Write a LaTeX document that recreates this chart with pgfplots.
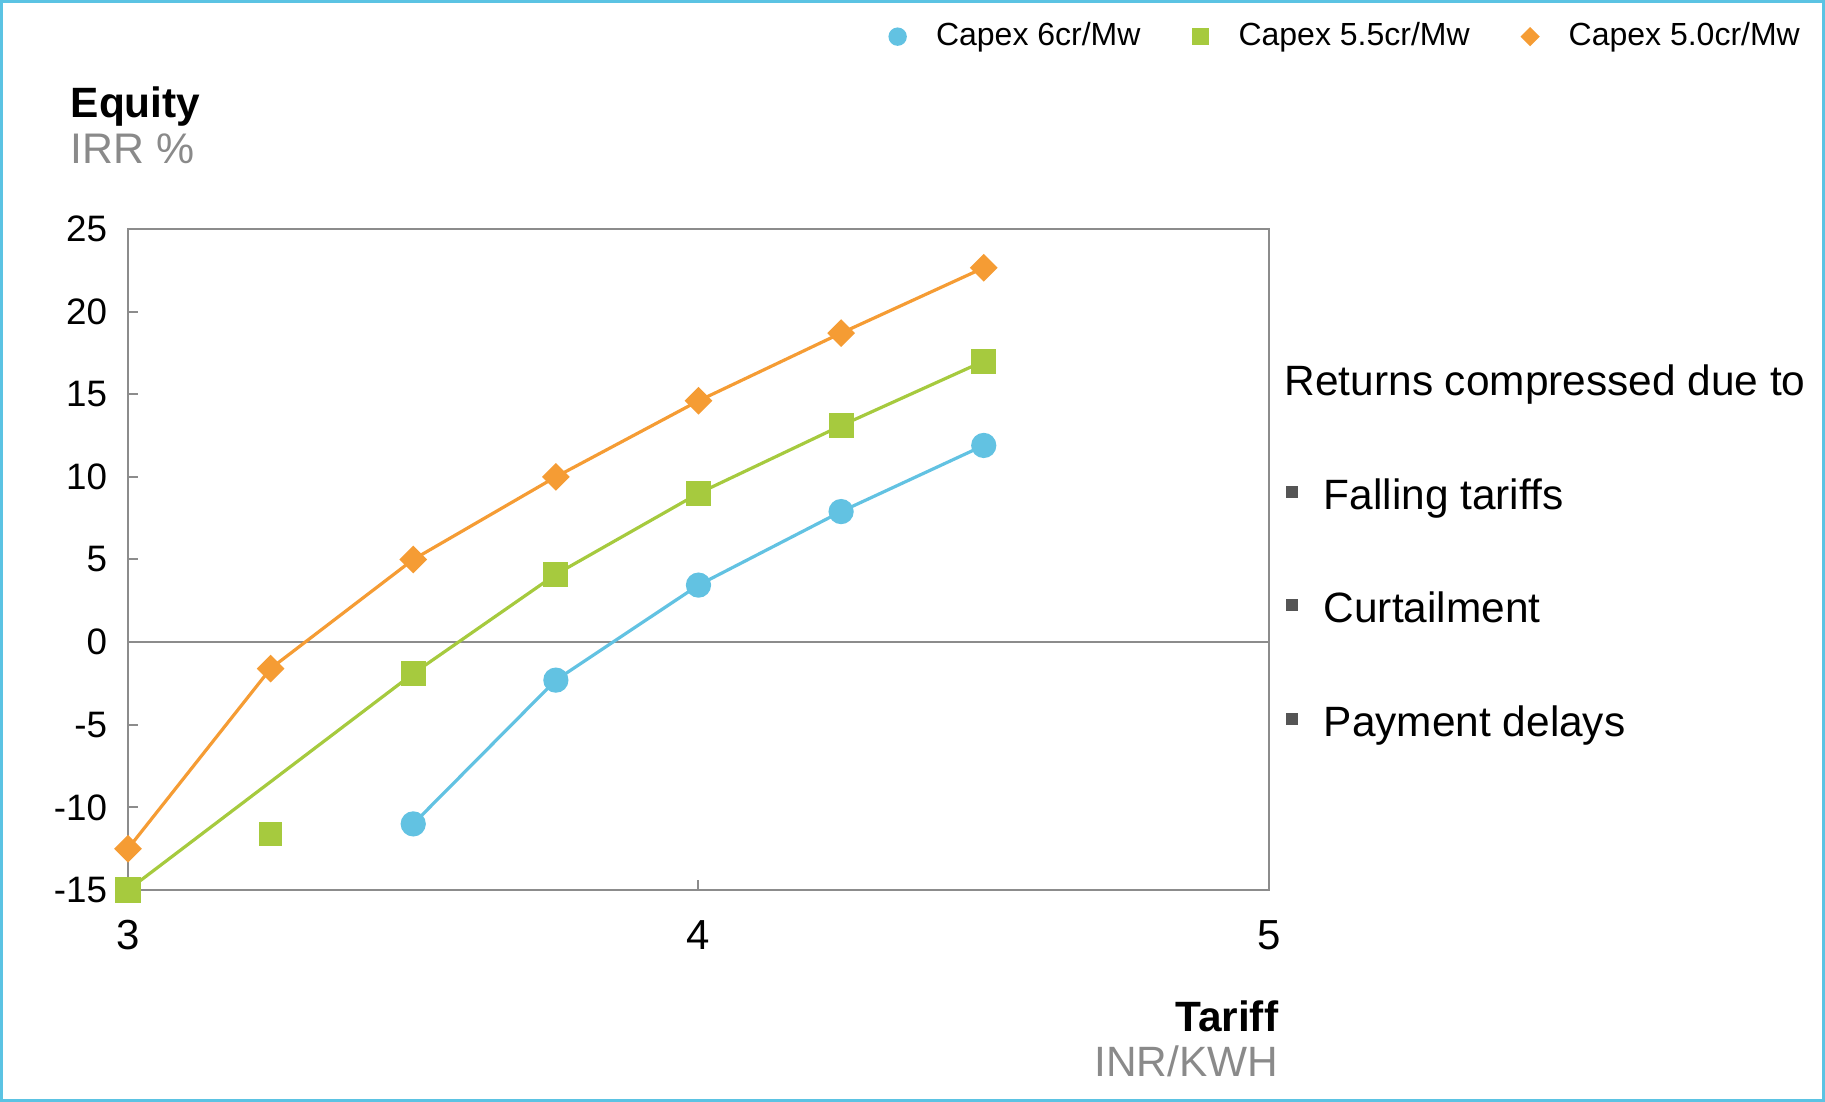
\documentclass[border=0pt]{standalone}
\usepackage{fontspec}
\setmainfont{Liberation Sans}
\usepackage{pgfplots}
\pgfplotsset{compat=1.18}
\definecolor{cblue}{HTML}{62C2E2}
\definecolor{cgreen}{HTML}{A6CA3E}
\definecolor{corange}{HTML}{F59C34}
\definecolor{frameblue}{HTML}{5BC3E3}
\definecolor{axgray}{HTML}{8C8C8C}
\definecolor{labgray}{HTML}{8A8A8A}
\definecolor{bulgray}{HTML}{555555}
\begin{document}
\begin{tikzpicture}
\path[use as bounding box] (0,0) rectangle (456.25pt,275.5pt);
\draw[frameblue, line width=0.8pt] (0.4pt,0.4pt) rectangle (455.85pt,275.1pt);
\begin{axis}[at={(32pt,53pt)}, anchor=south west, scale only axis,
  width=285.25pt, height=165.25pt,
  xmin=3, xmax=5, ymin=-15, ymax=25,
  xtick={3,4,5}, ytick={-15,-10,...,25},
  axis line style={axgray, line width=0.5pt},
  tick style={axgray, line width=0.5pt},
  tick pos=left, tick align=inside, major tick length=2.5pt,
  yticklabel style={font=\fontsize{9.2}{11}\selectfont, black, xshift=-1.7pt},
  xticklabel style={font=\fontsize{10.5}{12}\selectfont, black, yshift=-4pt},
  /pgf/number format/assume math mode=true,
  clip=false,
  legend columns=3,
  legend style={draw=none, fill=none, at={(1.466,1.291)}, anchor=east,
    font=\fontsize{8}{9}\selectfont, inner sep=0pt, nodes={inner sep=0pt},
    /tikz/every odd column/.append style={column sep=7.5pt},
    /tikz/every even column/.append style={column sep=13pt}},
  legend cell align=left,
  legend image code/.code={\draw[#1] plot coordinates {(0pt,0pt)};},
]
\draw[axgray, line width=0.5pt] (axis cs:3,0) -- (axis cs:5,0);
\addlegendimage{only marks, mark=*, mark size=2.1pt, cblue, draw=cblue, fill=cblue}
\addlegendentry{Capex 6cr/Mw}
\addlegendimage{only marks, mark=square*, mark size=2pt, cgreen, draw=cgreen, fill=cgreen}
\addlegendentry{Capex 5.5cr/Mw}
\addlegendimage{only marks, mark=square*, mark size=1.5pt, mark options={rotate=45}, corange, draw=corange, fill=corange}
\addlegendentry{Capex 5.0cr/Mw}

\addplot[forget plot, cblue, line width=0.8pt, mark=*, mark size=2.75pt, mark options={fill=cblue, draw=cblue}]
  coordinates {(3.5,-11.0) (3.75,-2.3) (4.0,3.45) (4.25,7.9) (4.5,11.9)};
\addplot[forget plot, cgreen, line width=0.8pt, mark=square*, mark size=2.75pt, mark options={fill=cgreen, draw=cgreen}]
  coordinates {(3.0,-15.0) (3.5,-1.9) (3.75,4.1) (4.0,9.0) (4.25,13.1) (4.5,17.0)};
\addplot[forget plot, only marks, cgreen, mark=square*, mark size=2.75pt, mark options={fill=cgreen, draw=cgreen}]
  coordinates {(3.25,-11.6)};
\addplot[forget plot, corange, line width=0.8pt, mark=square*, mark size=2.05pt, mark options={rotate=45, fill=corange, draw=corange}]
  coordinates {(3.0,-12.5) (3.25,-1.6) (3.5,5.0) (3.75,10.0) (4.0,14.6) (4.25,18.7) (4.5,22.65)};
\end{axis}
\begin{scope}[shift={(0,275.5pt)}, x=0.25pt, y=-0.25pt]
\node[anchor=base west, inner sep=0pt, font=\fontsize{10.6}{13}\selectfont\bfseries] at (70,118) {Equity};
\node[anchor=base west, inner sep=0pt, font=\fontsize{10.7}{13}\selectfont, text=labgray] at (70,164) {IRR \%};
\node[anchor=base east, inner sep=0pt, font=\fontsize{10.6}{13}\selectfont\bfseries] at (1279,1032) {Tariff};
\node[anchor=base east, inner sep=0pt, font=\fontsize{10.6}{13}\selectfont, text=labgray] at (1279,1077) {INR/KWH};
\node[anchor=base west, inner sep=0pt, font=\fontsize{10.6}{12}\selectfont] at (1284,396) {Returns compressed due to};
\node[anchor=base west, inner sep=0pt, font=\fontsize{10.6}{12}\selectfont] at (1323,510) {Falling tariffs};
\node[anchor=base west, inner sep=0pt, font=\fontsize{10.6}{12}\selectfont] at (1323,623) {Curtailment};
\node[anchor=base west, inner sep=0pt, font=\fontsize{10.6}{12}\selectfont] at (1323,737) {Payment delays};
\fill[bulgray] (1286,486) rectangle (1298,498);
\fill[bulgray] (1286,599) rectangle (1298,611);
\fill[bulgray] (1286,713) rectangle (1298,725);
\end{scope}
\end{tikzpicture}
\end{document}
